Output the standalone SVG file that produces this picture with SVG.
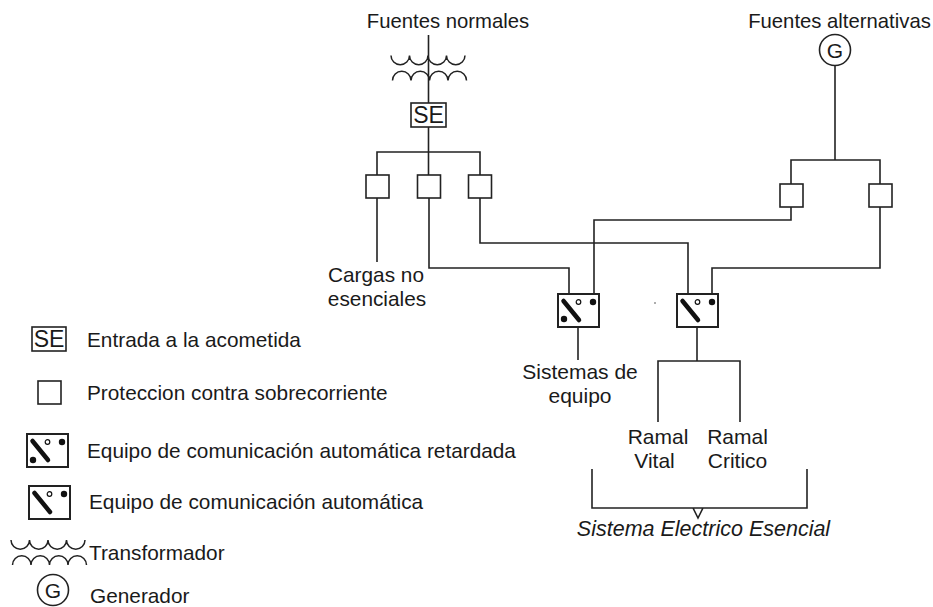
<svg xmlns="http://www.w3.org/2000/svg" width="933" height="607" viewBox="0 0 933 607">
<style>
text{font-family:"Liberation Sans",Arial,sans-serif;font-size:20.300px;fill:#1a1a1a}
.m{text-anchor:middle}
.t{font-size:20.800px}
.u{font-size:21px}
.g{font-size:23px}
.l{fill:none;stroke:#222;stroke-width:1.6}
.b{fill:#fff;stroke:#222;stroke-width:1.6}
.s{fill:#fff;stroke:#222;stroke-width:2}
.a{fill:none;stroke:#222;stroke-width:1.5}
.bl{stroke:#111;stroke-width:4.500;stroke-linecap:round;fill:none}
</style>
<defs>
<g id="xf">
<path class="a" d="M0 0a9.250 9.250 0 0 0 18.500 0a9.250 9.250 0 0 0 18.500 0a9.250 9.250 0 0 0 18.500 0a9.250 9.250 0 0 0 18.500 0"/>
<path class="a" d="M1.500 25a9.250 9.250 0 0 1 18.500 0a9.250 9.250 0 0 1 18.500 0a9.250 9.250 0 0 1 18.500 0a9.250 9.250 0 0 1 18.500 0"/>
</g>
<g id="sw">
<rect class="s" width="41" height="33"/>
<path class="bl" d="M5.500 7L21 26"/>
<circle cx="20.500" cy="8" r="2.300" fill="#fff" stroke="#111" stroke-width="1.200"/>
<circle cx="35" cy="8" r="3.200" fill="#111"/>
</g>
<rect id="br" class="b" width="23" height="23"/>
</defs>
<g id="connectors">
<path class="l" d="M428.500 35V103M428.500 127V152M377 175V152H480V175M428.500 152V175"/>
<path class="l" d="M377 197V262"/>
<path class="l" d="M429 197V268H569V294"/>
<path class="l" d="M480 197V243H688V294"/>
<path class="l" d="M835 66V160M791 184V160H880V184"/>
<path class="l" d="M791 207V220H594V294"/>
<path class="l" d="M880 207V268H712V294"/>
<path class="l" d="M578 327V360"/>
<path class="l" d="M697 327V361M658 422V361H740V422"/>
<path class="l" d="M592 469V508H807V469M693 508L698 518L703 508"/>
</g>
<g id="fuentes-normales"><text class="m" x="448" y="28">Fuentes normales</text></g>
<g id="transformador"><use href="#xf" x="391" y="55.500"/></g>
<g id="se"><rect class="b" x="411" y="103" width="35" height="24"/><text class="m g" x="428.500" y="123">SE</text></g>
<g id="br1"><use href="#br" x="366" y="175"/></g>
<g id="br2"><use href="#br" x="417.500" y="175"/></g>
<g id="br3"><use href="#br" x="468.500" y="175"/></g>
<g id="fuentes-alternativas"><text class="m" x="839.500" y="28">Fuentes alternativas</text></g>
<g id="generador"><circle class="b" cx="835" cy="50" r="15.500"/><text class="m u" x="835" y="57.500">G</text></g>
<g id="br4"><use href="#br" x="780" y="184"/></g>
<g id="br5"><use href="#br" x="869" y="184"/></g>
<g id="cargas"><text class="m t" x="376" y="282">Cargas no</text><text class="m t" x="377" y="306">esenciales</text></g>
<g id="sw1"><use href="#sw" x="558" y="294"/><circle cx="564" cy="319" r="3.200" fill="#111"/></g>
<g id="sw2"><use href="#sw" x="677" y="294"/></g>
<circle cx="655" cy="303" r="0.800" fill="#444"/>
<g id="sistemas"><text class="m u" x="580" y="379">Sistemas de</text><text class="m u" x="580" y="403">equipo</text></g>
<g id="vital"><text class="m u" x="658" y="444">Ramal</text><text class="m u" x="654.500" y="468">Vital</text></g>
<g id="critico"><text class="m u" x="737.500" y="444">Ramal</text><text class="m u" x="737.500" y="468">Critico</text></g>
<g id="see"><text class="m" x="703.500" y="536" font-style="italic" style="font-size:21.500px">Sistema Electrico Esencial</text></g>
<g id="legend">
<rect class="b" x="32" y="327" width="34" height="24"/><text class="m g" x="49" y="347">SE</text>
<text class="t" x="87" y="347">Entrada a la acometida</text>
<rect class="b" x="38" y="381" width="23" height="23"/>
<text class="t" x="87" y="400">Proteccion contra sobrecorriente</text>
<use href="#sw" x="27" y="434"/><circle cx="33" cy="460" r="3.200" fill="#111"/>
<text class="t" x="87" y="458">Equipo de comunicación automática retardada</text>
<use href="#sw" x="29" y="486"/>
<text class="t" x="89" y="509">Equipo de comunicación automática</text>
<use href="#xf" x="11" y="540"/>
<text class="t" x="89" y="560">Transformador</text>
<circle class="b" cx="53" cy="590" r="15.500"/><text class="m u" x="53" y="597.500">G</text>
<text class="t" x="90" y="603">Generador</text>
</g>
</svg>
